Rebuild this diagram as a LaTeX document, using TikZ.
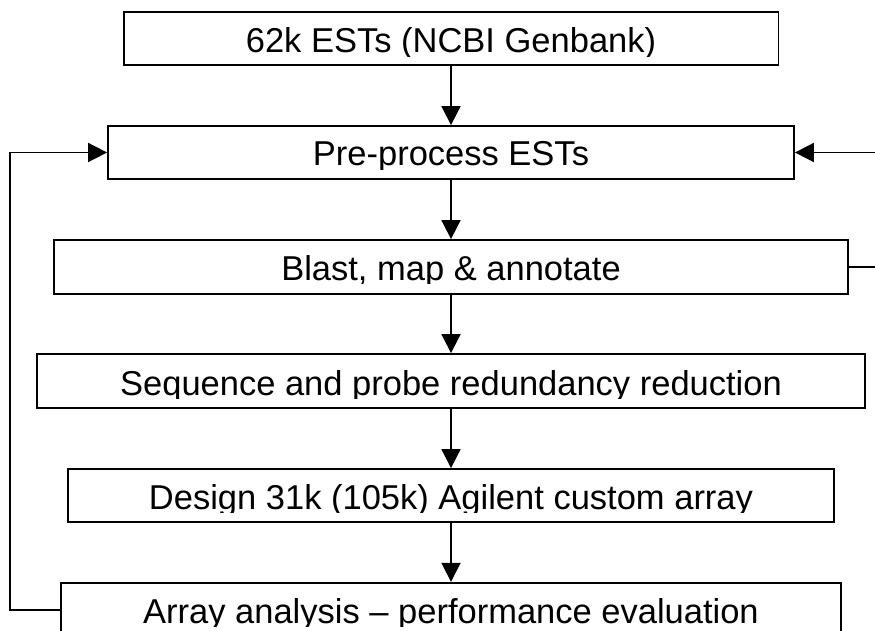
\documentclass[tikz,border=0pt]{standalone}
\usepackage{fontspec}
\setmainfont{Liberation Sans}
\usetikzlibrary{arrows.meta}
\tikzset{
  stepbox/.style={draw=black, line width=1.8pt, inner sep=0pt, fill=white},
  lbl/.style={inner sep=0pt, anchor=base, font=\fontsize{34.5}{40}\selectfont},
  arr/.style={line width=1.8pt, -{Triangle[length=19pt,width=19pt]}},
  ln/.style={line width=1.8pt}
}
\begin{document}
\begin{tikzpicture}[x=1pt,y=-1pt]
\clip (0,0) rectangle (875,631);
\fill[white] (0,0) rectangle (875,631);
% boxes
\node[stepbox, minimum width=654.5pt, minimum height=52.7pt] (est) at (451.25,38.65) {};
\node[stepbox, minimum width=686pt, minimum height=53pt] (pre) at (451,152.5) {};
\node[stepbox, minimum width=794pt, minimum height=54pt] (blast) at (451,267) {};
\node[stepbox, minimum width=828pt, minimum height=54pt] (seq) at (451,381) {};
\node[stepbox, minimum width=766pt, minimum height=52.7pt] (design) at (451,495.35) {};
\node[stepbox, minimum width=780pt, minimum height=54pt] (array) at (451,609.7) {};
% labels (descenders clipped as in the original)
\begin{scope}\clip (est.north west) rectangle (est.east |- 0,56.2);
\node[lbl] (estt) at (451,52.7) {62k ESTs (NCBI Genbank)};\end{scope}
\begin{scope}\clip (pre.north west) rectangle (pre.east |- 0,169.2);
\node[lbl] (pret) at (451,165.7) {Pre-process ESTs};\end{scope}
\begin{scope}\clip (blast.north west) rectangle (blast.east |- 0,283.5);
\node[lbl] (blastt) at (451,280) {Blast, map \& annotate};\end{scope}
\begin{scope}\clip (seq.north west) rectangle (seq.east |- 0,398.5);
\node[lbl] (seqt) at (451,395) {Sequence and probe redundancy reduction};\end{scope}
\begin{scope}\clip (design.north west) rectangle (design.east |- 0,512.8);
\node[lbl] (designt) at (451,509.3) {Design 31k (105k) Agilent custom array};\end{scope}
\begin{scope}\clip (array.north west) rectangle (array.east |- 0,626.5);
\node[lbl] (arrayt) at (451,623) {Array analysis – performance evaluation};\end{scope}
% connectors
\draw[arr] (est.south -| pre.north) -- (pre.north);
\draw[arr] (pre) -- (blast);
\draw[arr] (blast) -- (seq);
\draw[arr] (seq) -- (design);
\draw[arr] (design) -- (array);
\draw[arr] (array.west) -- ++(-50,0) |- (pre.west);
\draw[arr] (blast.east) -- ++(40,0) |- (pre.east);
\end{tikzpicture}
\end{document}
